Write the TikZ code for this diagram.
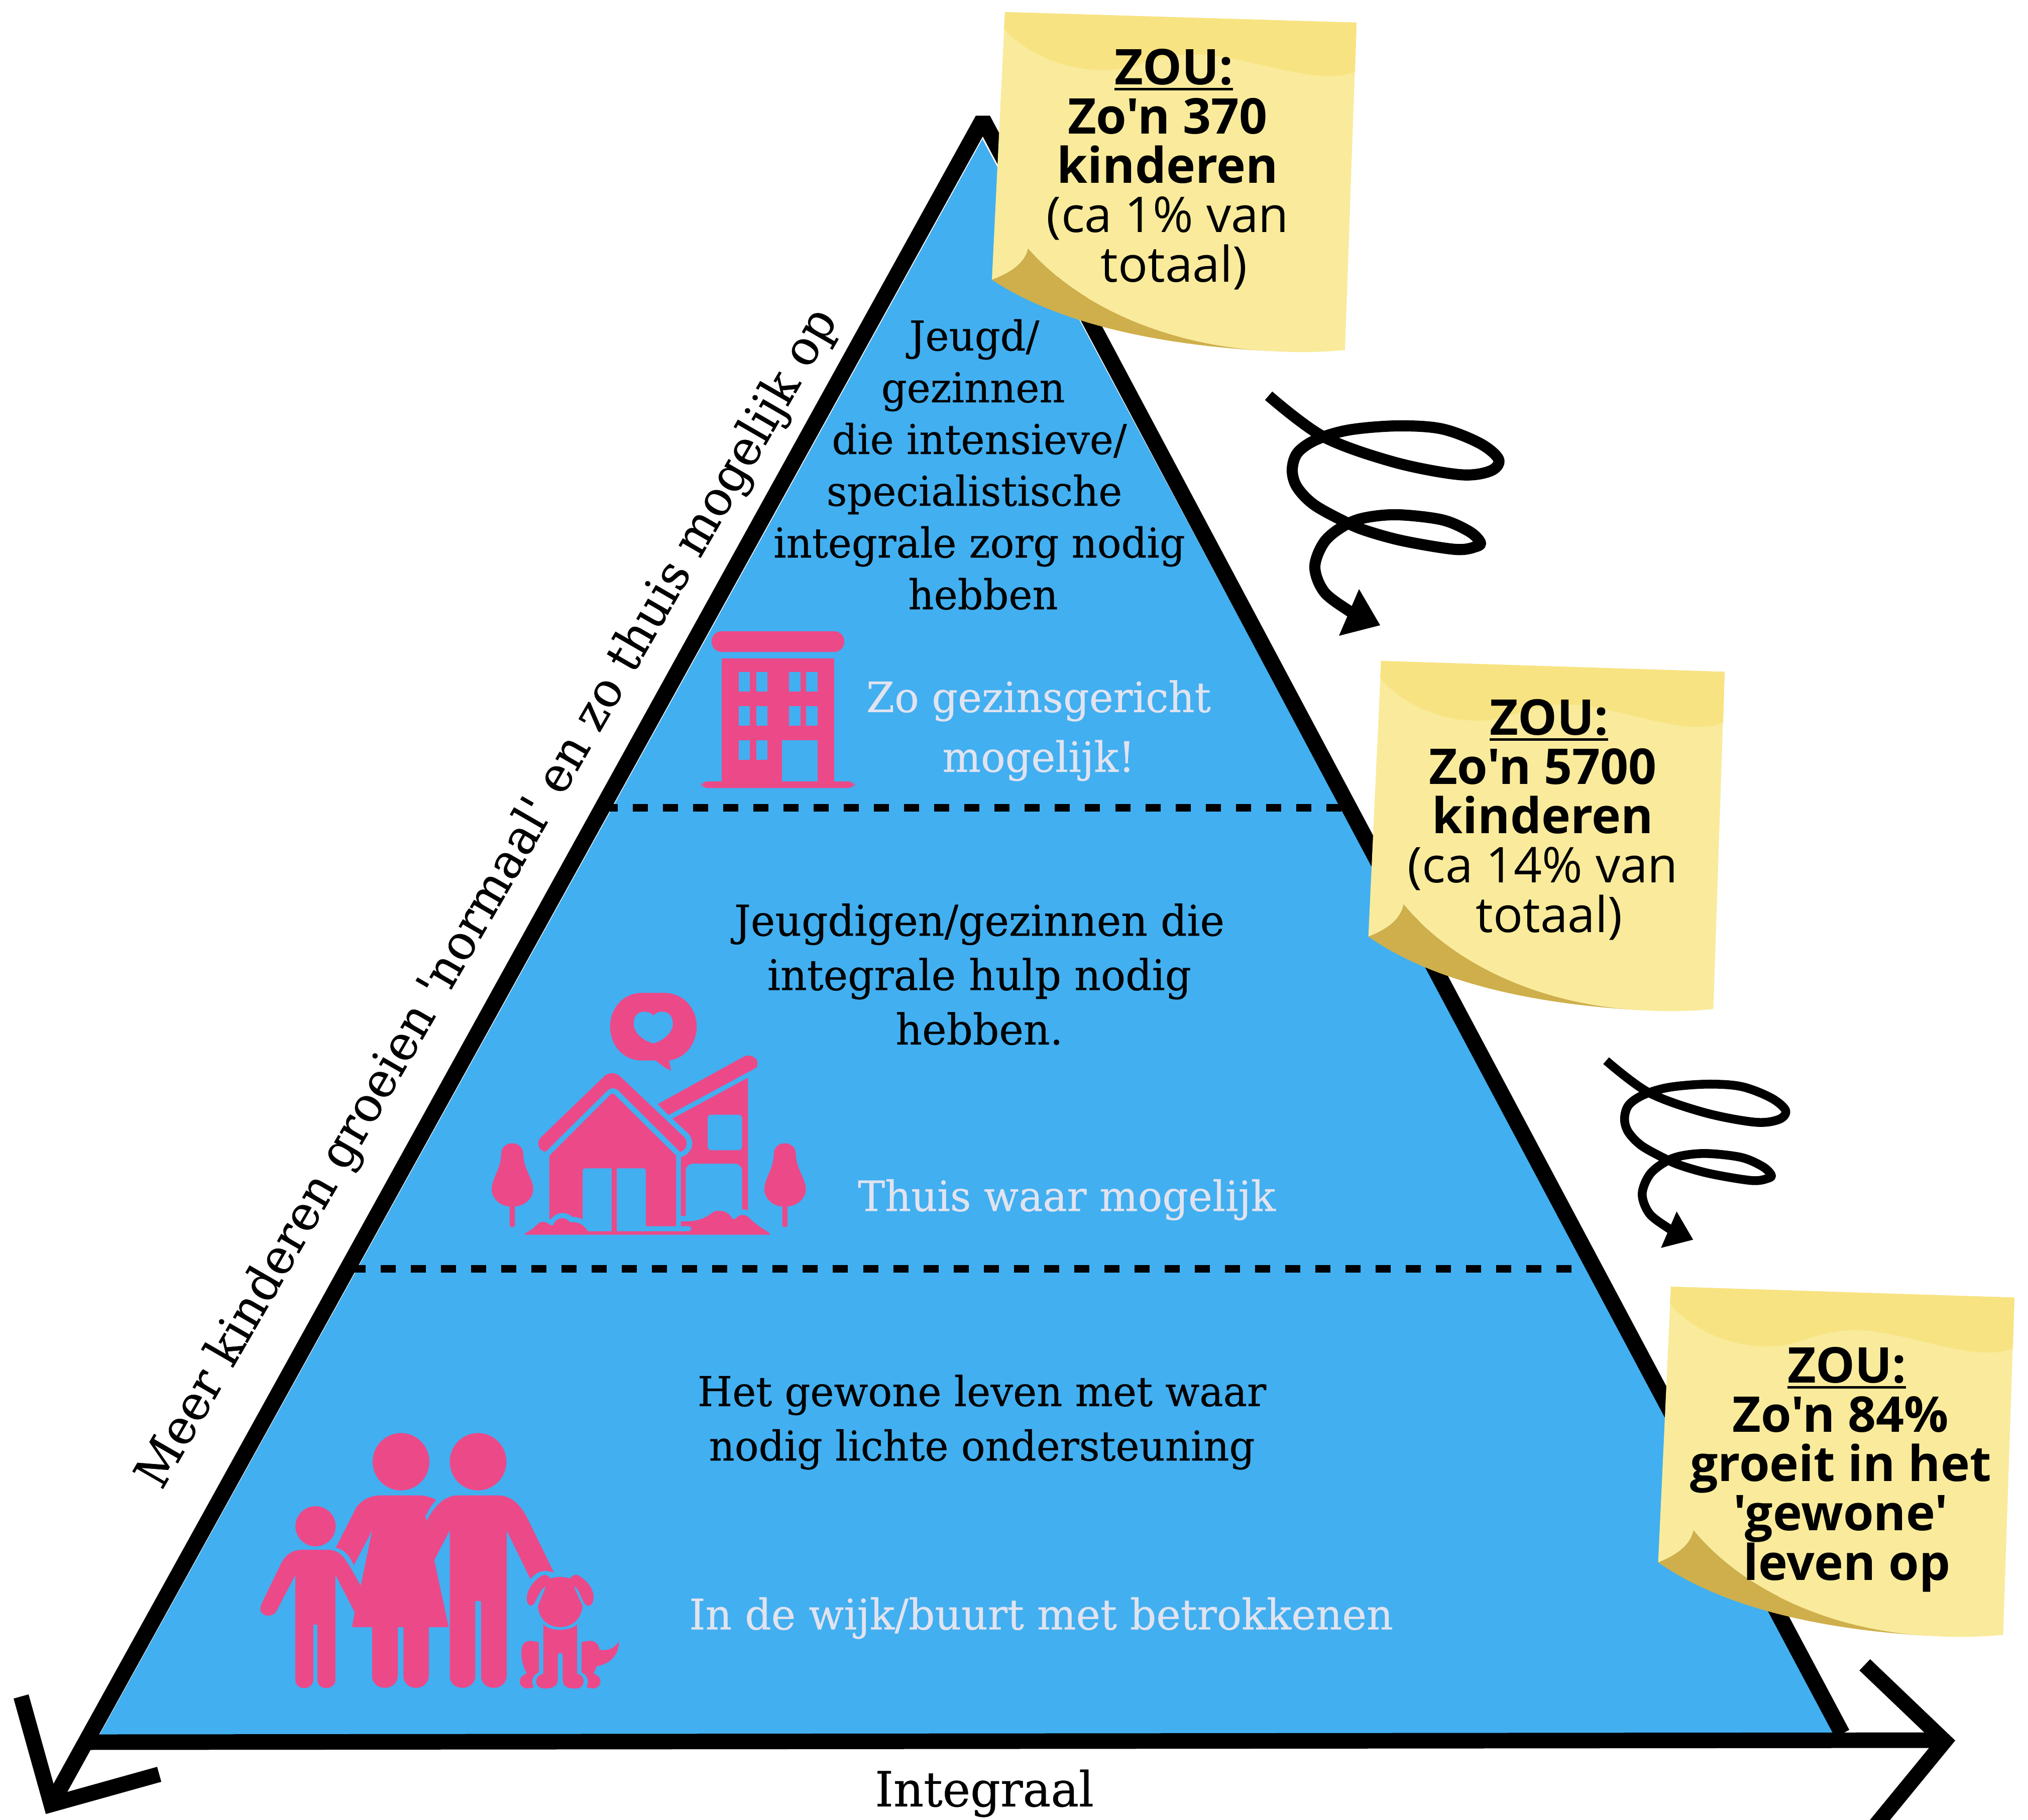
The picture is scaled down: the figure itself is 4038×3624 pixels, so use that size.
\documentclass[tikz,border=0pt]{standalone}
\usepackage{fontspec}
\newfontfamily\slabfont{DejaVu Serif}[FakeStretch=0.97,FakeBold=0.4]
\newfontfamily\notefont{Open Sans}
\definecolor{pyrblue}{HTML}{42AFF0}
\definecolor{iconpink}{HTML}{EC4989}
\definecolor{notelight}{HTML}{F9EB9B}
\definecolor{notedark}{HTML}{F7E381}
\definecolor{notecurl}{HTML}{CFAF4B}
\definecolor{softtext}{HTML}{E1E3EF}
\newcommand\zouline{\leavevmode\setbox0=\hbox{\textbf{ZOU:}}\rlap{\rule[-3.2pt]{\wd0}{1.5pt}}\box0}
\tikzset{
  edgeline/.style={draw=black,line width=9.1pt,line join=bevel},
  axisline/.style={draw=black,line width=8.8pt,miter limit=10},
  levelline/.style={draw=black,line width=4.27pt,dash pattern=on 8.535pt off 8.535pt},
  icon/.style={fill=iconpink,draw=none},
  iconhole/.style={fill=pyrblue,draw=none},
  bodytext/.style={align=center,inner sep=0pt,text=black,font=\slabfont\fontsize{23.3}{29.3}\selectfont},
  bodywide/.style={align=center,inner sep=0pt,text=black,font=\slabfont\fontsize{23.3}{30.8}\selectfont},
  bodylarge/.style={align=center,inner sep=0pt,text=black,font=\slabfont\fontsize{24}{30.8}\selectfont},
  softlabel/.style={align=center,inner sep=0pt,text=softtext,font=\slabfont\fontsize{23.7}{33.8}\selectfont},
  softlong/.style={align=center,inner sep=0pt,text=softtext,font=\slabfont\fontsize{24}{33.8}\selectfont},
  notetext/.style={align=center,inner sep=0pt,text=black,font=\notefont\fontsize{27.9}{27.9}\selectfont},
  axistext/.style={inner sep=0pt,text=black,font=\slabfont\fontsize{27.4}{34}\selectfont},
}
\newcommand\stickynote{%
  \fill[notelight] (0,0)--(700,21)--(677,673) .. controls (625,678) and (575,678) .. (526,675)
     .. controls (330,665) and (150,590) .. (46,471) .. controls (40,500) and (10,520) .. (-26,533) -- cycle;
  \fill[notedark] (0,0)--(700,21)--(697,119) .. controls (620,150) and (480,85) .. (377,84)
     .. controls (290,84) and (260,120) .. (182,115) .. controls (100,112) and (30,70) .. (-2,33) -- cycle;
  \fill[notecurl] (-26,533) .. controls (10,520) and (40,500) .. (46,471)
     .. controls (150,590) and (330,665) .. (526,675)
     .. controls (340,665) and (120,630) .. (-26,533) -- cycle;
}
\newcommand\curlarrow[1]{%
  \draw[line width=#1,line join=round] plot[smooth,tension=.55] coordinates {
    (2526,788)(2634,869)(2775,920)(2905,945)(2967,938)(2984,915)(2947,883)(2871,854)(2783,848)
    (2687,856)(2622,875)(2584,901)(2573,935)(2582,969)(2615,1004)(2672,1036)(2718,1056)(2794,1077)
    (2898,1094)(2940,1088)(2947,1079)(2925,1058)(2871,1035)(2783,1025)(2718,1031)(2676,1047)
    (2637,1079)(2618,1129)(2637,1179)(2687,1217)(2710,1230)};
  \fill (2706,1173)--(2748,1245)--(2666,1266)--cycle;
}
\begin{document}
\begin{tikzpicture}[x=0.01cm,y=-0.01cm]
\useasboundingbox (0,0) rectangle (4038,3624);
\fill[white] (0,0) rectangle (4038,3624);

% pyramid
\fill[pyrblue] (1956,277)--(3660,3455)--(195,3460)--cycle;
\draw[edgeline] (102,3593)--(1957,238)--(3668,3452);
\draw[axisline] (180,3469)--(3872,3465);
\draw[axisline] (3713,3315)--(3872,3467)--(3735,3634);
\draw[axisline] (42,3378)--(102,3593)--(317,3533);
\draw[levelline] (1200,1608)--(2690,1608);
\draw[levelline] (698,2526)--(3154,2526);

% building icon
\fill[icon,rounded corners=5.6pt] (1417,1257) rectangle (1681,1298);
\fill[icon] (1437,1311) rectangle (1661,1560);
\fill[icon,rounded corners=3.6pt] (1396,1556) rectangle (1702,1569);
\foreach \wy in {1338,1406,1474}{
  \foreach \wx in {1471,1506}{\fill[iconhole] (\wx,\wy) rectangle ++(22,39);}
}
\foreach \wy in {1338,1406}{
  \foreach \wx in {1571,1605}{\fill[iconhole] (\wx,\wy) rectangle ++(23,39);}
}
\fill[iconhole] (1557,1474) rectangle (1628,1556);

% house icon
\begin{scope}[shift={(900,1900)},xscale=0.5102,yscale=0.3954]
  \fill[icon] (740,195)--(830,195) .. controls (900,195) and (955,270) .. (955,365)
     .. controls (955,450) and (910,525) .. (847,535) -- (855,585) .. controls (835,578) and (815,555) .. (795,535)
     -- (740,535) .. controls (670,535) and (617,460) .. (617,365) .. controls (617,270) and (670,195) .. (740,195) -- cycle;
  \fill[iconhole] (786,310) .. controls (800,280) and (862,275) .. (862,350) .. controls (862,410) and (800,448) .. (786,448)
     .. controls (770,448) and (709,410) .. (709,350) .. controls (709,275) and (770,280) .. (786,310) -- cycle;
  % right wing
  \fill[icon] (860,828)--(1155,622)--(1155,1290) .. controls (1148,1286) and (1140,1285) .. (1132,1285)
     -- (1132,1090) .. controls (1132,1070) and (1120,1055) .. (1105,1055) -- (940,1055)
     .. controls (925,1055) and (912,1070) .. (912,1090) -- (912,1318) -- (893,1318) -- (893,1022)
     .. controls (925,1012) and (938,975) .. (938,955) .. controls (938,930) and (928,910) .. (920,900) -- cycle;
  \fill[iconhole,rounded corners=2pt] (998,808) rectangle (1132,987);
  \fill[icon] (803,755)--(1140,515) .. controls (1165,500) and (1195,525) .. (1192,550) -- (1190,570) -- (845,810) -- cycle;
  % roof
  \fill[icon] (345,925)--(590,620) .. controls (610,592) and (640,592) .. (660,620) -- (905,920)
     .. controls (925,945) and (915,990) .. (890,995) -- (648,685) .. controls (635,672) and (618,672) .. (608,685)
     -- (365,995) .. controls (335,990) and (330,945) .. (345,925) -- cycle;
  % main body
  \fill[icon] (380,1015)--(620,705) .. controls (624,701) and (630,701) .. (633,705) -- (875,1015) -- (875,1370)
     -- (757,1370) -- (757,1090) .. controls (757,1083) and (752,1078) .. (745,1078) -- (643,1078) -- (643,1395)
     -- (623,1395) -- (623,1078) -- (520,1078) .. controls (514,1078) and (510,1083) .. (510,1090) -- (510,1335)
     .. controls (500,1328) and (485,1322) .. (468,1322) .. controls (455,1300) and (410,1290) .. (385,1335) -- (380,1330) -- cycle;
  % ground and bushes
  \fill[icon] (283,1413) -- (285,1406) .. controls (310,1390) and (325,1372) .. (335,1358) .. controls (350,1342) and (365,1345) .. (385,1365)
     .. controls (395,1368) and (395,1362) .. (400,1352) .. controls (415,1322) and (445,1322) .. (460,1350)
     .. controls (495,1345) and (515,1365) .. (530,1395) -- (925,1395) .. controls (937,1395) and (937,1370) .. (925,1370)
     -- (893,1370) -- (893,1345) -- (920,1345) .. controls (955,1345) and (990,1330) .. (1015,1302)
     .. controls (1040,1280) and (1080,1295) .. (1092,1328) .. controls (1098,1338) and (1105,1335) .. (1110,1328)
     .. controls (1118,1312) and (1140,1308) .. (1155,1322) .. controls (1180,1355) and (1210,1380) .. (1240,1405) -- (1240,1413) -- cycle;
  % trees
  \foreach \tx in {0,1064}{
  \begin{scope}[shift={(\tx,0)}]
  \fill[icon] (192,1005) .. controls (192,970) and (215,952) .. (235,952) .. controls (255,952) and (278,970) .. (278,1005)
     .. controls (278,1080) and (317,1130) .. (317,1185) .. controls (317,1230) and (280,1270) .. (245,1270)
     -- (245,1365) .. controls (245,1378) and (225,1378) .. (225,1365) -- (225,1270)
     .. controls (190,1270) and (155,1230) .. (155,1185) .. controls (155,1130) and (192,1080) .. (192,1005) -- cycle;
  \end{scope}}
\end{scope}

% family icon
\begin{scope}[shift={(450,2780)},xscale=0.542,yscale=0.408]
  \fill[icon] (329,635) ellipse [x radius=74,y radius=98];
  \fill[icon] (643,320) ellipse [x radius=104,y radius=140];
  \fill[icon] (926,320) ellipse [x radius=104,y radius=140];
  \fill[icon] (280,750)--(380,750) .. controls (430,755) and (445,810) .. (495,925) -- (473,1055) -- (402,872) -- (402,1385)
     .. controls (400,1438) and (336,1438) .. (336,1385) -- (336,1115) -- (321,1115) -- (321,1385)
     .. controls (319,1438) and (255,1438) .. (255,1385) -- (255,872) -- (185,1050)
     .. controls (170,1085) and (120,1075) .. (127,1030) -- (130,1015) -- (205,810) .. controls (225,765) and (250,750) .. (280,750) -- cycle;
  \fill[icon] (575,484)--(710,484) .. controls (735,485) and (760,497) .. (772,507) .. controls (755,530) and (745,555) .. (733,585)
     -- (736,610) -- (765,800) -- (818,1127) -- (745,1127) -- (745,1365) .. controls (743,1443) and (652,1443) .. (652,1365)
     -- (652,1127) -- (631,1127) -- (631,1365) .. controls (629,1443) and (537,1443) .. (537,1365) -- (537,1127) -- (463,1127)
     -- (473,1055) -- (495,925) -- (537,655) -- (470,825) .. controls (455,785) and (440,750) .. (403,740)
     -- (480,540) .. controls (505,500) and (535,484) .. (575,484) -- cycle;
  \fill[icon] (855,484)--(995,484) .. controls (1050,484) and (1080,530) .. (1105,590) -- (1205,862)
     .. controls (1165,840) and (1140,860) .. (1118,892) -- (1031,655) -- (1031,1365) .. controls (1029,1443) and (937,1443) .. (937,1365)
     -- (937,1000) -- (916,1000) -- (916,1365) .. controls (914,1443) and (822,1443) .. (822,1365) -- (822,655) -- (765,800) -- (736,610)
     .. controls (765,540) and (800,484) .. (855,484) -- cycle;
  % dog
  \fill[icon] (1192,890) .. controls (1215,880) and (1240,880) .. (1263,890) .. controls (1270,878) and (1280,870) .. (1290,872)
     .. controls (1330,900) and (1352,945) .. (1350,985) .. controls (1348,1030) and (1325,1035) .. (1312,1000)
     .. controls (1300,970) and (1295,935) .. (1278,930) -- (1310,1025) .. controls (1305,1090) and (1270,1127) .. (1228,1127)
     .. controls (1185,1127) and (1150,1090) .. (1146,1025) -- (1175,930) .. controls (1155,940) and (1150,970) .. (1135,1005)
     .. controls (1125,1030) and (1105,1030) .. (1105,985) .. controls (1105,945) and (1135,890) .. (1168,872)
     .. controls (1178,870) and (1185,880) .. (1192,890) -- cycle;
  \fill[icon] (1166,1113) .. controls (1190,1150) and (1265,1150) .. (1290,1113) -- (1290,1355)
     .. controls (1320,1360) and (1325,1425) .. (1285,1427) .. controls (1255,1427) and (1237,1420) .. (1237,1380)
     -- (1237,1265) .. controls (1235,1248) and (1221,1248) .. (1219,1265) -- (1219,1380)
     .. controls (1219,1420) and (1195,1427) .. (1170,1427) .. controls (1130,1425) and (1130,1365) .. (1166,1355) -- cycle;
  \fill[icon] (1149,1202) .. controls (1120,1190) and (1085,1185) .. (1085,1250) .. controls (1085,1300) and (1095,1325) .. (1105,1355)
     .. controls (1070,1365) and (1070,1425) .. (1110,1427) -- (1130,1420) .. controls (1120,1395) and (1125,1360) .. (1149,1348) -- cycle;
  \fill[icon] (1306,1202) .. controls (1335,1190) and (1365,1185) .. (1372,1237) .. controls (1400,1245) and (1425,1235) .. (1443,1197)
     .. controls (1445,1250) and (1420,1305) .. (1362,1318) -- (1350,1355) .. controls (1385,1365) and (1385,1427) .. (1345,1427)
     -- (1325,1420) .. controls (1335,1395) and (1330,1360) .. (1306,1348) -- cycle;
\end{scope}

% curly arrows
\curlarrow{6.3pt}
\begin{scope}[shift={(3198,2112)},scale=0.78,shift={(-2526,-788)}]
  \curlarrow{5pt}
\end{scope}

% sticky notes
\begin{scope}[shift={(2001,24)}]\stickynote\end{scope}
\begin{scope}[shift={(2750,1316)},xscale=.977,yscale=1.03]\stickynote\end{scope}
\begin{scope}[shift={(3327,2562)},xscale=.977,yscale=1.03]\stickynote\end{scope}

% pyramid texts
\node[bodytext] (t1) at (1950,925) {\hspace*{-5.7pt}Jeugd/\\\hspace*{-7pt}gezinnen\\die intensieve/\\\hspace*{-5.7pt}specialistische\\integrale zorg nodig\\\hspace*{4.3pt}hebben};
\node[softlabel] (s1) at (2068,1455) {Zo gezinsgericht\\mogelijk!};
\node[bodylarge] (t2) at (1950,1940) {Jeugdigen/gezinnen die\\integrale hulp nodig\\hebben.};
\node[softlabel] (s2) at (2124,2389) {Thuis waar mogelijk};
\node[bodywide] (t3) at (1955,2832) {Het gewone leven met waar\\nodig lichte ondersteuning};
\node[softlong] (s3) at (2073,3222) {In de wijk/buurt met betrokkenen};
\node[axistext] (ax1) at (1960,3571) {Integraal};
\node[axistext,rotate=60] (ax2) at (973,1790) {Meer kinderen groeien 'normaal' en zo thuis mogelijk op};

% note texts
\node[notetext] (n1) at (2325,337) {\hspace*{7pt}\zouline\\\textbf{Zo'n 370}\\\textbf{kinderen}\\(ca 1\% van\\\hspace*{7pt}totaal)};
\node[notetext] (n2) at (3072,1632) {\hspace*{7pt}\zouline\\\textbf{Zo'n 5700}\\\textbf{kinderen}\\(ca 14\% van\\\hspace*{7pt}totaal)};
\node[notetext] (n3) at (3665,2926) {\hspace*{7pt}\zouline\\\textbf{Zo'n 84\%}\\\textbf{groeit in het}\\\textbf{'gewone'}\\\hspace*{7pt}\textbf{leven op}};
\end{tikzpicture}
\end{document}
